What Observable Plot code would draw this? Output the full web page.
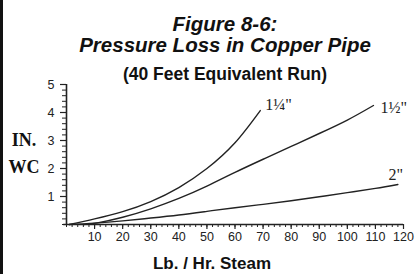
<!DOCTYPE html>
<html>
<head>
<meta charset="utf-8">
<script src="https://cdn.jsdelivr.net/npm/d3@7"></script>
<script src="https://cdn.jsdelivr.net/npm/@observablehq/plot@0.6"></script>
<style>
  html, body { margin: 0; padding: 0; background: #fff; }
  #wrap { position: relative; width: 415px; height: 274px; overflow: hidden; background: #fff; }
  #wrap svg { position: absolute; left: 0; top: 0; }
  .t { position: absolute; white-space: nowrap; line-height: 1; color: #111; }
  .c { transform: translateX(-50%); }
</style>
</head>
<body>
<div id="wrap">
  <div id="border" style="position:absolute;left:0;top:0;width:3px;height:274px;background:#111;"></div>
  <div class="t c" style="left:225px;top:12px;font:italic bold 20.5px 'Liberation Sans',Arial,sans-serif;">Figure 8-6:</div>
  <div class="t c" style="left:225px;top:33px;font:italic bold 20.5px 'Liberation Sans',Arial,sans-serif;">Pressure Loss in Copper Pipe</div>
  <div class="t c" style="left:225px;top:64px;font:bold 17.5px 'Liberation Sans',Arial,sans-serif;">(40 Feet Equivalent Run)</div>
  <div class="t c" style="left:212px;top:254px;font:bold 17px 'Liberation Sans',Arial,sans-serif;">Lb. / Hr. Steam</div>
  <div class="t c" style="left:24px;top:130px;font:bold 18px 'Liberation Serif','Times New Roman',serif;">IN.</div>
  <div class="t c" style="left:24px;top:157px;font:bold 18px 'Liberation Serif','Times New Roman',serif;">WC</div>
</div>
<script>
// Pipe sizes (series names)
const pipes = ["1¼\"", "1½\"", "2\""];

// 1¼" pipe
const x125 = [1, 10, 20, 30, 40, 50, 60, 69];
const y125 = [0, 0.2, 0.46, 0.82, 1.32, 2.0, 2.92, 4.07];

// 1½" pipe
const x150 = [6, 11, 20, 30, 40, 50, 60, 70, 80, 90, 100, 109.3];
const y150 = [0, 0.06, 0.26, 0.56, 0.93, 1.37, 1.86, 2.33, 2.79, 3.25, 3.73, 4.25];

// 2" pipe
const x200 = [1, 10, 20, 30, 40, 50, 60, 70, 80, 90, 100, 110, 118];
const y200 = [0, 0.05, 0.13, 0.23, 0.34, 0.47, 0.6, 0.72, 0.85, 0.99, 1.14, 1.29, 1.43];

// Tick labels
const xTicks = [10, 20, 30, 40, 50, 60, 70, 80, 90, 100, 110, 120];
const yTicks = [1, 2, 3, 4, 5];

const series = [[x125, y125], [x150, y150], [x200, y200]];
const rows = series.flatMap(([xs, ys], i) => xs.map((x, j) => ({pipe: pipes[i], x, y: ys[j]})));
const ends = series.map(([xs, ys], i) => ({pipe: pipes[i], x: xs[xs.length - 1], y: ys[ys.length - 1]}));

const xMinor = d3.range(0, 121, 2);
const yMinor = d3.range(0, 5.001, 0.2);
const serif = "'Liberation Serif', 'Times New Roman', serif";

const chart = Plot.plot({
  width: 415,
  height: 274,
  marginLeft: 66,
  marginRight: 12,
  marginTop: 84,
  marginBottom: 50,
  style: {fontFamily: "'Liberation Sans', Arial, sans-serif", fontSize: "12.5px", color: "#222", background: "transparent", overflow: "visible"},
  x: {domain: [0, 120]},
  y: {domain: [0, 5]},
  marks: [
    Plot.axisX({ticks: xMinor, tickSize: 3, tickFormat: () => "", label: null, strokeWidth: 1}),
    Plot.axisX({ticks: xTicks, tickSize: 5, tickPadding: 3, tickFormat: d3.format("d"), label: null, strokeWidth: 1.2, fontSize: 12.5}),
    Plot.axisY({ticks: yMinor, tickSize: 4, tickFormat: () => "", label: null, strokeWidth: 1}),
    Plot.axisY({ticks: yTicks, tickSize: 6, tickPadding: 6, tickFormat: d3.format("d"), label: null, strokeWidth: 1.2, fontSize: 12.5}),
    Plot.ruleY([0], {x1: -1, x2: 120, stroke: "#222", strokeWidth: 1.6}),
    Plot.ruleX([0], {y1: 0, y2: 5, stroke: "#222", strokeWidth: 1.6}),
    Plot.line(rows, {x: "x", y: "y", z: "pipe", curve: "natural", stroke: "#222", strokeWidth: 1.4}),
    Plot.text(ends.filter(d => d.pipe === pipes[0]), {x: "x", y: "y", text: "pipe", textAnchor: "start", dx: 5, dy: -6, fontFamily: serif, fontSize: 16, fill: "#222"}),
    Plot.text(ends.filter(d => d.pipe === pipes[1]), {x: "x", y: "y", text: "pipe", textAnchor: "start", dx: 7, dy: 2, fontFamily: serif, fontSize: 16, fill: "#222"}),
    Plot.text(ends.filter(d => d.pipe === pipes[2]), {x: "x", y: "y", text: "pipe", textAnchor: "middle", dx: -2, dy: -10, fontFamily: serif, fontSize: 16, fill: "#222"})
  ]
});
document.getElementById("wrap").prepend(chart);
</script>
</body>
</html>
